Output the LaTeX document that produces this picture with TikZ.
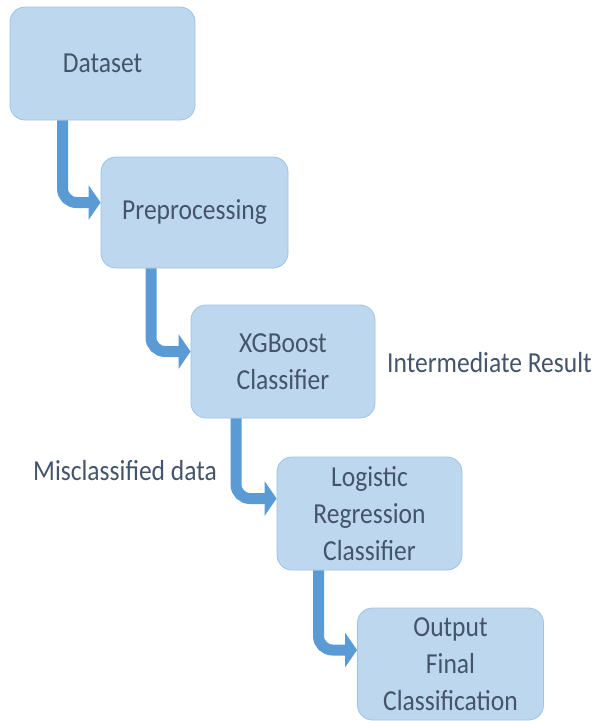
\documentclass[tikz,border=0pt]{standalone}
\usepackage{fontspec}
\setmainfont{Carlito}[FakeStretch=0.88]
\usetikzlibrary{arrows.meta}

\definecolor{boxfill}{HTML}{BDD7EE}
\definecolor{boxline}{HTML}{9DC3E6}
\definecolor{flowblue}{HTML}{5B9BD5}
\definecolor{inktext}{HTML}{44546A}

\tikzset{
  box/.style={draw=boxline, fill=boxfill, rounded corners=15pt, line width=0.8pt,
    inner sep=0pt, align=center, text=inktext, font=\fontsize{29}{37}\selectfont},
  flow/.style={draw=flowblue, line width=11pt, rounded corners=14pt,
    -{Triangle[width=34pt,length=12pt,fill=flowblue]}},
  note/.style={text=inktext, inner sep=0pt, font=\fontsize{29}{37}\selectfont}
}

\begin{document}
\begin{tikzpicture}[x=1pt, y=-1pt]
\useasboundingbox (0,0) rectangle (595,721);

\node[box, minimum width=185pt, minimum height=113pt] (data) at (102.5,63.5) {Dataset};
\node[box, minimum width=187pt, minimum height=111pt] (prep) at (194.5,212.5) {Preprocessing};
\node[box, minimum width=184pt, minimum height=113pt] (xgb) at (283,361.5) {XGBoost\\Classifier};
\node[box, minimum width=185pt, minimum height=113pt] (logit) at (369.5,513.5) {Logistic\\Regression\\Classifier};
\node[box, minimum width=186pt, minimum height=112pt] (out) at (450.5,664) {Output\\Final\\Classification};

\draw[flow] ([xshift=-40pt]data.south) |- ([yshift=10pt]prep.west);
\draw[flow] ([xshift=-43.5pt]prep.south) |- ([yshift=10pt]xgb.west);
\draw[flow] ([xshift=-47pt]xgb.south) |- ([yshift=15pt]logit.west);
\draw[flow] ([xshift=-51pt]logit.south) |- ([yshift=14pt]out.west);

\node[note, anchor=base west] (inter) at (387,372) {Intermediate Result};
\node[note, anchor=base west] (miss) at (33,480) {Misclassified data};

\end{tikzpicture}
\end{document}
